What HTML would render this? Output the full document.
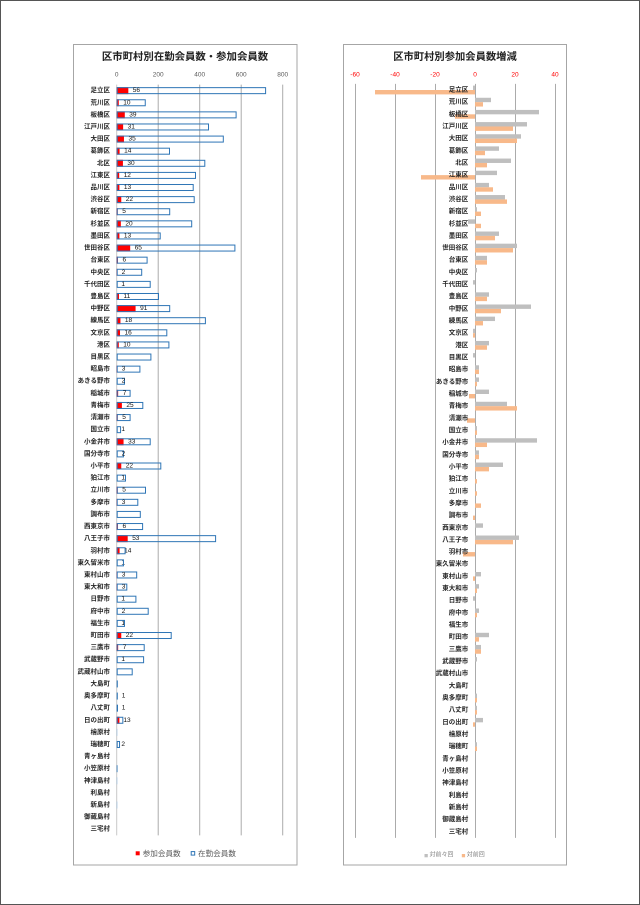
<!DOCTYPE html>
<html><head><meta charset="utf-8">
<style>
html,body{margin:0;padding:0;background:#fff;}
svg{display:block;}
text{font-family:"Liberation Sans","Noto Sans CJK JP",sans-serif;dominant-baseline:central;}
.l{text-anchor:end;font-size:6.5px;fill:#262626;font-weight:bold;}
.v{font-size:6.5px;fill:#111;}
.t{font-size:6.5px;fill:#595959;text-anchor:middle;}
.tr{font-size:6.5px;fill:#ff0000;text-anchor:middle;}
.r{fill:#ff0000;}
.b{fill:none;stroke:#2e75b6;stroke-width:1;}
.bl{fill:#2e75b6;}
.g{fill:#bfbfbf;}
.o{fill:#f8b98a;}
.gl{stroke:#ababab;stroke-width:1;}
</style></head>
<body>
<svg width="640" height="905" viewBox="0 0 640 905" xmlns="http://www.w3.org/2000/svg">
<rect x="0.5" y="0.5" width="639" height="904" fill="#fff" stroke="#555"/>

<!-- LEFT CHART -->
<rect x="73.5" y="44.5" width="223.5" height="820.5" fill="#fff" stroke="#a6a6a6"/>
<text x="185" y="57.5" font-size="10.4" font-weight="bold" text-anchor="middle" fill="#222">区市町村別在勤会員数・参加会員数</text>
<text class="t" x="116.7" y="75">0</text>
<text class="t" x="158.2" y="75">200</text>
<text class="t" x="199.7" y="75">400</text>
<text class="t" x="241.2" y="75">600</text>
<text class="t" x="282.7" y="75">800</text>
<line class="gl" x1="158.2" y1="84.6" x2="158.2" y2="835.4"/>
<line class="gl" x1="199.7" y1="84.6" x2="199.7" y2="835.4"/>
<line class="gl" x1="241.2" y1="84.6" x2="241.2" y2="835.4"/>
<line class="gl" x1="282.7" y1="84.6" x2="282.7" y2="835.4"/>
<line x1="116.7" y1="84.6" x2="116.7" y2="835.4" stroke="#c8c8c8"/>

<g transform="translate(0,90.65)"><text class="l" x="110">足立区</text><rect class="r" x="116.7" y="-3.5" width="11.62" height="7"/><rect class="b" x="117.2" y="-3" width="148.4" height="6"/><text class="v" x="132.8">56</text></g>
<g transform="translate(0,102.76)"><text class="l" x="110">荒川区</text><rect class="r" x="116.7" y="-3.5" width="2.08" height="7"/><rect class="b" x="117.2" y="-3" width="28.05" height="6"/><text class="v" x="123.3">10</text></g>
<g transform="translate(0,114.87)"><text class="l" x="110">板橋区</text><rect class="r" x="116.7" y="-3.5" width="8.09" height="7"/><rect class="b" x="117.2" y="-3" width="118.9" height="6"/><text class="v" x="129.3">39</text></g>
<g transform="translate(0,126.97)"><text class="l" x="110">江戸川区</text><rect class="r" x="116.7" y="-3.5" width="6.43" height="7"/><rect class="b" x="117.2" y="-3" width="91.3" height="6"/><text class="v" x="127.6">31</text></g>
<g transform="translate(0,139.08)"><text class="l" x="110">大田区</text><rect class="r" x="116.7" y="-3.5" width="7.26" height="7"/><rect class="b" x="117.2" y="-3" width="106.1" height="6"/><text class="v" x="128.5">35</text></g>
<g transform="translate(0,151.19)"><text class="l" x="110">葛飾区</text><rect class="r" x="116.7" y="-3.5" width="2.9" height="7"/><rect class="b" x="117.2" y="-3" width="52.3" height="6"/><text class="v" x="124.1">14</text></g>
<g transform="translate(0,163.30)"><text class="l" x="110">北区</text><rect class="r" x="116.7" y="-3.5" width="6.23" height="7"/><rect class="b" x="117.2" y="-3" width="87.6" height="6"/><text class="v" x="127.4">30</text></g>
<g transform="translate(0,175.41)"><text class="l" x="110">江東区</text><rect class="r" x="116.7" y="-3.5" width="2.49" height="7"/><rect class="b" x="117.2" y="-3" width="78.3" height="6"/><text class="v" x="123.7">12</text></g>
<g transform="translate(0,187.51)"><text class="l" x="110">品川区</text><rect class="r" x="116.7" y="-3.5" width="2.7" height="7"/><rect class="b" x="117.2" y="-3" width="76" height="6"/><text class="v" x="123.9">13</text></g>
<g transform="translate(0,199.62)"><text class="l" x="110">渋谷区</text><rect class="r" x="116.7" y="-3.5" width="4.57" height="7"/><rect class="b" x="117.2" y="-3" width="77" height="6"/><text class="v" x="125.8">22</text></g>
<g transform="translate(0,211.73)"><text class="l" x="110">新宿区</text><rect class="r" x="116.7" y="-3.5" width="1.04" height="7"/><rect class="b" x="117.2" y="-3" width="52.5" height="6"/><text class="v" x="122.2">5</text></g>
<g transform="translate(0,223.84)"><text class="l" x="110">杉並区</text><rect class="r" x="116.7" y="-3.5" width="4.15" height="7"/><rect class="b" x="117.2" y="-3" width="74.5" height="6"/><text class="v" x="125.4">20</text></g>
<g transform="translate(0,235.95)"><text class="l" x="110">墨田区</text><rect class="r" x="116.7" y="-3.5" width="2.7" height="7"/><rect class="b" x="117.2" y="-3" width="43" height="6"/><text class="v" x="123.9">13</text></g>
<g transform="translate(0,248.05)"><text class="l" x="110">世田谷区</text><rect class="r" x="116.7" y="-3.5" width="13.49" height="7"/><rect class="b" x="117.2" y="-3" width="117.7" height="6"/><text class="v" x="134.7">65</text></g>
<g transform="translate(0,260.16)"><text class="l" x="110">台東区</text><rect class="r" x="116.7" y="-3.5" width="1.25" height="7"/><rect class="b" x="117.2" y="-3" width="29.9" height="6"/><text class="v" x="122.5">6</text></g>
<g transform="translate(0,272.27)"><text class="l" x="110">中央区</text><rect class="r" x="116.7" y="-3.5" width="0.42" height="7"/><rect class="b" x="117.2" y="-3" width="24.5" height="6"/><text class="v" x="121.6">2</text></g>
<g transform="translate(0,284.38)"><text class="l" x="110">千代田区</text><rect class="b" x="117.2" y="-3" width="33" height="6"/><text class="v" x="121.4">1</text></g>
<g transform="translate(0,296.49)"><text class="l" x="110">豊島区</text><rect class="r" x="116.7" y="-3.5" width="2.28" height="7"/><rect class="b" x="117.2" y="-3" width="41.3" height="6"/><text class="v" x="123.5">11</text></g>
<g transform="translate(0,308.59)"><text class="l" x="110">中野区</text><rect class="r" x="116.7" y="-3.5" width="18.88" height="7"/><rect class="b" x="117.2" y="-3" width="52.5" height="6"/><text class="v" x="140.1">91</text></g>
<g transform="translate(0,320.70)"><text class="l" x="110">練馬区</text><rect class="r" x="116.7" y="-3.5" width="3.74" height="7"/><rect class="b" x="117.2" y="-3" width="88.2" height="6"/><text class="v" x="124.9">18</text></g>
<g transform="translate(0,332.81)"><text class="l" x="110">文京区</text><rect class="r" x="116.7" y="-3.5" width="3.32" height="7"/><rect class="b" x="117.2" y="-3" width="49.6" height="6"/><text class="v" x="124.5">16</text></g>
<g transform="translate(0,344.92)"><text class="l" x="110">港区</text><rect class="r" x="116.7" y="-3.5" width="2.08" height="7"/><rect class="b" x="117.2" y="-3" width="51.7" height="6"/><text class="v" x="123.3">10</text></g>
<g transform="translate(0,357.03)"><text class="l" x="110">目黒区</text><rect class="b" x="117.2" y="-3" width="33.7" height="6"/></g>
<g transform="translate(0,369.13)"><text class="l" x="110">昭島市</text><rect class="r" x="116.7" y="-3.5" width="0.62" height="7"/><rect class="b" x="117.2" y="-3" width="22.7" height="6"/><text class="v" x="121.8">3</text></g>
<g transform="translate(0,381.24)"><text class="l" x="110">あきる野市</text><rect class="b" x="117.2" y="-3" width="7.3" height="6"/><text class="v" x="121.6">2</text></g>
<g transform="translate(0,393.35)"><text class="l" x="110">稲城市</text><rect class="r" x="116.7" y="-3.5" width="1.45" height="7"/><rect class="b" x="117.2" y="-3" width="12.9" height="6"/><text class="v" x="122.7">7</text></g>
<g transform="translate(0,405.46)"><text class="l" x="110">青梅市</text><rect class="r" x="116.7" y="-3.5" width="5.19" height="7"/><rect class="b" x="117.2" y="-3" width="25.6" height="6"/><text class="v" x="126.4">25</text></g>
<g transform="translate(0,417.57)"><text class="l" x="110">清瀬市</text><rect class="r" x="116.7" y="-3.5" width="1.04" height="7"/><rect class="b" x="117.2" y="-3" width="12.9" height="6"/><text class="v" x="122.2">5</text></g>
<g transform="translate(0,429.67)"><text class="l" x="110">国立市</text><rect class="b" x="117.2" y="-3" width="3.36" height="6"/><text class="v" x="121.4">1</text></g>
<g transform="translate(0,441.78)"><text class="l" x="110">小金井市</text><rect class="r" x="116.7" y="-3.5" width="6.85" height="7"/><rect class="b" x="117.2" y="-3" width="33" height="6"/><text class="v" x="128.1">33</text></g>
<g transform="translate(0,453.89)"><text class="l" x="110">国分寺市</text><rect class="b" x="117.2" y="-3" width="6.26" height="6"/><text class="v" x="121.6">2</text></g>
<g transform="translate(0,466.00)"><text class="l" x="110">小平市</text><rect class="r" x="116.7" y="-3.5" width="4.57" height="7"/><rect class="b" x="117.2" y="-3" width="43.6" height="6"/><text class="v" x="125.8">22</text></g>
<g transform="translate(0,478.11)"><text class="l" x="110">狛江市</text><rect class="b" x="117.2" y="-3" width="8.3" height="6"/><text class="v" x="121.4">1</text></g>
<g transform="translate(0,490.21)"><text class="l" x="110">立川市</text><rect class="r" x="116.7" y="-3.5" width="1.04" height="7"/><rect class="b" x="117.2" y="-3" width="28.3" height="6"/><text class="v" x="122.2">5</text></g>
<g transform="translate(0,502.32)"><text class="l" x="110">多摩市</text><rect class="r" x="116.7" y="-3.5" width="0.62" height="7"/><rect class="b" x="117.2" y="-3" width="20.6" height="6"/><text class="v" x="121.8">3</text></g>
<g transform="translate(0,514.43)"><text class="l" x="110">調布市</text><rect class="b" x="117.2" y="-3" width="23.1" height="6"/></g>
<g transform="translate(0,526.54)"><text class="l" x="110">西東京市</text><rect class="r" x="116.7" y="-3.5" width="1.25" height="7"/><rect class="b" x="117.2" y="-3" width="25.4" height="6"/><text class="v" x="122.5">6</text></g>
<g transform="translate(0,538.65)"><text class="l" x="110">八王子市</text><rect class="r" x="116.7" y="-3.5" width="11" height="7"/><rect class="b" x="117.2" y="-3" width="98.4" height="6"/><text class="v" x="132.2">53</text></g>
<g transform="translate(0,550.75)"><text class="l" x="110">羽村市</text><rect class="r" x="116.7" y="-3.5" width="2.9" height="7"/><text class="v" x="124.1">14</text><rect class="b" x="117.2" y="-3" width="7.9" height="6"/></g>
<g transform="translate(0,562.86)"><text class="l" x="110">東久留米市</text><text class="v" x="121.4">1</text><rect class="b" x="117.2" y="-3" width="6.26" height="6"/></g>
<g transform="translate(0,574.97)"><text class="l" x="110">東村山市</text><rect class="r" x="116.7" y="-3.5" width="0.62" height="7"/><rect class="b" x="117.2" y="-3" width="19.5" height="6"/><text class="v" x="121.8">3</text></g>
<g transform="translate(0,587.08)"><text class="l" x="110">東大和市</text><rect class="r" x="116.7" y="-3.5" width="0.62" height="7"/><rect class="b" x="117.2" y="-3" width="9.6" height="6"/><text class="v" x="121.8">3</text></g>
<g transform="translate(0,599.19)"><text class="l" x="110">日野市</text><rect class="b" x="117.2" y="-3" width="18.7" height="6"/><text class="v" x="121.4">1</text></g>
<g transform="translate(0,611.29)"><text class="l" x="110">府中市</text><rect class="b" x="117.2" y="-3" width="31" height="6"/><text class="v" x="121.6">2</text></g>
<g transform="translate(0,623.40)"><text class="l" x="110">福生市</text><text class="v" x="121.4">1</text><rect class="b" x="117.2" y="-3" width="7.3" height="6"/></g>
<g transform="translate(0,635.51)"><text class="l" x="110">町田市</text><rect class="r" x="116.7" y="-3.5" width="4.57" height="7"/><rect class="b" x="117.2" y="-3" width="54" height="6"/><text class="v" x="125.8">22</text></g>
<g transform="translate(0,647.62)"><text class="l" x="110">三鷹市</text><rect class="r" x="116.7" y="-3.5" width="1.45" height="7"/><rect class="b" x="117.2" y="-3" width="27" height="6"/><text class="v" x="122.7">7</text></g>
<g transform="translate(0,659.73)"><text class="l" x="110">武蔵野市</text><rect class="b" x="117.2" y="-3" width="26.4" height="6"/><text class="v" x="121.4">1</text></g>
<g transform="translate(0,671.83)"><text class="l" x="110">武蔵村山市</text><rect class="b" x="117.2" y="-3" width="15" height="6"/></g>
<g transform="translate(0,683.94)"><text class="l" x="110">大島町</text><rect class="bl" x="116.7" y="-3.5" width="1.1" height="7"/></g>
<g transform="translate(0,696.05)"><text class="l" x="110">奥多摩町</text><rect class="bl" x="116.7" y="-3.5" width="1.1" height="7"/><text class="v" x="121.7">1</text></g>
<g transform="translate(0,708.16)"><text class="l" x="110">八丈町</text><rect class="bl" x="116.7" y="-3.5" width="1.3" height="7"/><text class="v" x="121.7">1</text></g>
<g transform="translate(0,720.27)"><text class="l" x="110">日の出町</text><rect class="r" x="116.7" y="-3.5" width="2.7" height="7"/><rect class="b" x="117.2" y="-3" width="5.64" height="6"/><text class="v" x="123.4">13</text></g>
<g transform="translate(0,732.37)"><text class="l" x="110">檜原村</text><rect x="116.7" y="-3.5" width="0.6" height="7" fill="#9dc3e6"/></g>
<g transform="translate(0,744.48)"><text class="l" x="110">瑞穂町</text><rect class="b" x="117.2" y="-3" width="2.32" height="6"/><text class="v" x="121.4">2</text></g>
<g transform="translate(0,756.59)"><text class="l" x="110">青ヶ島村</text></g>
<g transform="translate(0,768.70)"><text class="l" x="110">小笠原村</text><rect class="bl" x="116.7" y="-3.5" width="0.8" height="7"/></g>
<g transform="translate(0,780.81)"><text class="l" x="110">神津島村</text><rect x="116.7" y="-3.5" width="0.6" height="7" fill="#9dc3e6"/></g>
<g transform="translate(0,792.91)"><text class="l" x="110">利島村</text></g>
<g transform="translate(0,805.02)"><text class="l" x="110">新島村</text><rect x="116.7" y="-3.5" width="0.6" height="7" fill="#9dc3e6"/></g>
<g transform="translate(0,817.13)"><text class="l" x="110">御蔵島村</text></g>
<g transform="translate(0,829.24)"><text class="l" x="110">三宅村</text></g>

<rect class="r" x="135.7" y="851.3" width="4" height="4"/>
<text x="142.7" y="853.3" font-size="7.6" fill="#595959">参加会員数</text>
<rect class="b" x="191.2" y="851.6" width="3.5" height="3.5"/>
<text x="198" y="853.3" font-size="7.6" fill="#595959">在勤会員数</text>

<!-- RIGHT CHART -->
<rect x="343.5" y="44.5" width="223" height="820.5" fill="#fff" stroke="#a6a6a6"/>
<text x="455" y="57.5" font-size="10.3" font-weight="bold" text-anchor="middle" fill="#222">区市町村別参加会員数増減</text>
<text class="tr" x="355" y="75">-60</text>
<text class="tr" x="395" y="75">-40</text>
<text class="tr" x="435" y="75">-20</text>
<text class="tr" x="475" y="75">0</text>
<text class="tr" x="515" y="75">20</text>
<text class="tr" x="555" y="75">40</text>
<line class="gl" x1="355.5" y1="83.9" x2="355.5" y2="837.9"/>
<line class="gl" x1="395.5" y1="83.9" x2="395.5" y2="837.9"/>
<line class="gl" x1="435.5" y1="83.9" x2="435.5" y2="837.9"/>
<line class="gl" x1="475.5" y1="83.9" x2="475.5" y2="837.9"/>
<line class="gl" x1="515.5" y1="83.9" x2="515.5" y2="837.9"/>
<line class="gl" x1="555.5" y1="83.9" x2="555.5" y2="837.9"/>

<g transform="translate(0,90.00)"><rect class="g" x="473" y="-4.4" width="2" height="4.4"/><rect class="o" x="375" y="0" width="100" height="4.4"/><text class="l" x="468.3">足立区</text></g>
<g transform="translate(0,102.16)"><rect class="g" x="475" y="-4.4" width="16" height="4.4"/><rect class="o" x="475" y="0" width="8" height="4.4"/><text class="l" x="468.3">荒川区</text></g>
<g transform="translate(0,114.32)"><rect class="g" x="475" y="-4.4" width="64" height="4.4"/><rect class="o" x="455" y="0" width="20" height="4.4"/><text class="l" x="468.3">板橋区</text></g>
<g transform="translate(0,126.48)"><rect class="g" x="475" y="-4.4" width="52" height="4.4"/><rect class="o" x="475" y="0" width="38" height="4.4"/><text class="l" x="468.3">江戸川区</text></g>
<g transform="translate(0,138.64)"><rect class="g" x="475" y="-4.4" width="46" height="4.4"/><rect class="o" x="475" y="0" width="42" height="4.4"/><text class="l" x="468.3">大田区</text></g>
<g transform="translate(0,150.80)"><rect class="g" x="475" y="-4.4" width="24" height="4.4"/><rect class="o" x="475" y="0" width="10" height="4.4"/><text class="l" x="468.3">葛飾区</text></g>
<g transform="translate(0,162.96)"><rect class="g" x="475" y="-4.4" width="36" height="4.4"/><rect class="o" x="475" y="0" width="12" height="4.4"/><text class="l" x="468.3">北区</text></g>
<g transform="translate(0,175.12)"><rect class="g" x="475" y="-4.4" width="22" height="4.4"/><rect class="o" x="421" y="0" width="54" height="4.4"/><text class="l" x="468.3">江東区</text></g>
<g transform="translate(0,187.28)"><rect class="g" x="475" y="-4.4" width="14" height="4.4"/><rect class="o" x="475" y="0" width="18" height="4.4"/><text class="l" x="468.3">品川区</text></g>
<g transform="translate(0,199.44)"><rect class="g" x="475" y="-4.4" width="30" height="4.4"/><rect class="o" x="475" y="0" width="32" height="4.4"/><text class="l" x="468.3">渋谷区</text></g>
<g transform="translate(0,211.60)"><rect class="g" x="475" y="-4.4" width="2" height="4.4"/><rect class="o" x="475" y="0" width="6" height="4.4"/><text class="l" x="468.3">新宿区</text></g>
<g transform="translate(0,223.76)"><rect class="g" x="468" y="-4.4" width="7" height="4.4"/><rect class="o" x="475" y="0" width="6" height="4.4"/><text class="l" x="468.3">杉並区</text></g>
<g transform="translate(0,235.92)"><rect class="g" x="475" y="-4.4" width="24" height="4.4"/><rect class="o" x="475" y="0" width="20" height="4.4"/><text class="l" x="468.3">墨田区</text></g>
<g transform="translate(0,248.08)"><rect class="g" x="475" y="-4.4" width="42" height="4.4"/><rect class="o" x="475" y="0" width="38" height="4.4"/><text class="l" x="468.3">世田谷区</text></g>
<g transform="translate(0,260.24)"><rect class="g" x="475" y="-4.4" width="12" height="4.4"/><rect class="o" x="475" y="0" width="12" height="4.4"/><text class="l" x="468.3">台東区</text></g>
<g transform="translate(0,272.40)"><rect class="g" x="475" y="-4.4" width="2" height="4.4"/><text class="l" x="468.3">中央区</text></g>
<g transform="translate(0,284.56)"><rect class="g" x="473" y="-4.4" width="2" height="4.4"/><text class="l" x="468.3">千代田区</text></g>
<g transform="translate(0,296.72)"><rect class="g" x="475" y="-4.4" width="14" height="4.4"/><rect class="o" x="475" y="0" width="12" height="4.4"/><text class="l" x="468.3">豊島区</text></g>
<g transform="translate(0,308.88)"><rect class="g" x="475" y="-4.4" width="56" height="4.4"/><rect class="o" x="475" y="0" width="26" height="4.4"/><text class="l" x="468.3">中野区</text></g>
<g transform="translate(0,321.04)"><rect class="g" x="475" y="-4.4" width="20" height="4.4"/><rect class="o" x="475" y="0" width="8" height="4.4"/><text class="l" x="468.3">練馬区</text></g>
<g transform="translate(0,333.20)"><rect class="g" x="473" y="-4.4" width="2" height="4.4"/><rect class="o" x="473" y="0" width="2" height="4.4"/><text class="l" x="468.3">文京区</text></g>
<g transform="translate(0,345.36)"><rect class="g" x="475" y="-4.4" width="14" height="4.4"/><rect class="o" x="475" y="0" width="12" height="4.4"/><text class="l" x="468.3">港区</text></g>
<g transform="translate(0,357.52)"><rect class="g" x="473" y="-4.4" width="2" height="4.4"/><text class="l" x="468.3">目黒区</text></g>
<g transform="translate(0,369.68)"><rect class="g" x="475" y="-4.4" width="4" height="4.4"/><rect class="o" x="475" y="0" width="4" height="4.4"/><text class="l" x="468.3">昭島市</text></g>
<g transform="translate(0,381.84)"><rect class="g" x="475" y="-4.4" width="4" height="4.4"/><rect class="o" x="475" y="0" width="2" height="4.4"/><text class="l" x="468.3">あきる野市</text></g>
<g transform="translate(0,394.00)"><rect class="g" x="475" y="-4.4" width="14" height="4.4"/><rect class="o" x="469" y="0" width="6" height="4.4"/><text class="l" x="468.3">稲城市</text></g>
<g transform="translate(0,406.16)"><rect class="g" x="475" y="-4.4" width="32" height="4.4"/><rect class="o" x="475" y="0" width="42" height="4.4"/><text class="l" x="468.3">青梅市</text></g>
<g transform="translate(0,418.32)"><rect class="o" x="467" y="0" width="8" height="4.4"/><text class="l" x="468.3">清瀬市</text></g>
<g transform="translate(0,430.48)"><rect class="g" x="475" y="-4.4" width="2" height="4.4"/><rect class="o" x="475" y="0" width="2" height="4.4"/><text class="l" x="468.3">国立市</text></g>
<g transform="translate(0,442.64)"><rect class="g" x="475" y="-4.4" width="62" height="4.4"/><rect class="o" x="475" y="0" width="12" height="4.4"/><text class="l" x="468.3">小金井市</text></g>
<g transform="translate(0,454.80)"><rect class="g" x="475" y="-4.4" width="4" height="4.4"/><rect class="o" x="475" y="0" width="4" height="4.4"/><text class="l" x="468.3">国分寺市</text></g>
<g transform="translate(0,466.96)"><rect class="g" x="475" y="-4.4" width="28" height="4.4"/><rect class="o" x="475" y="0" width="14" height="4.4"/><text class="l" x="468.3">小平市</text></g>
<g transform="translate(0,479.12)"><rect class="o" x="475" y="0" width="2" height="4.4"/><text class="l" x="468.3">狛江市</text></g>
<g transform="translate(0,491.28)"><rect class="o" x="475" y="0" width="2" height="4.4"/><text class="l" x="468.3">立川市</text></g>
<g transform="translate(0,503.44)"><rect class="o" x="475" y="0" width="6" height="4.4"/><text class="l" x="468.3">多摩市</text></g>
<g transform="translate(0,515.60)"><rect class="o" x="473" y="0" width="2" height="4.4"/><text class="l" x="468.3">調布市</text></g>
<g transform="translate(0,527.76)"><rect class="g" x="475" y="-4.4" width="8" height="4.4"/><text class="l" x="468.3">西東京市</text></g>
<g transform="translate(0,539.92)"><rect class="g" x="475" y="-4.4" width="44" height="4.4"/><rect class="o" x="475" y="0" width="38" height="4.4"/><text class="l" x="468.3">八王子市</text></g>
<g transform="translate(0,552.08)"><rect class="o" x="463" y="0" width="12" height="4.4"/><text class="l" x="468.3">羽村市</text></g>
<g transform="translate(0,564.24)"><text class="l" x="468.3">東久留米市</text></g>
<g transform="translate(0,576.40)"><rect class="g" x="475" y="-4.4" width="6" height="4.4"/><rect class="o" x="473" y="0" width="2" height="4.4"/><text class="l" x="468.3">東村山市</text></g>
<g transform="translate(0,588.56)"><rect class="g" x="475" y="-4.4" width="4" height="4.4"/><rect class="o" x="475" y="0" width="2" height="4.4"/><text class="l" x="468.3">東大和市</text></g>
<g transform="translate(0,600.72)"><rect class="g" x="473" y="-4.4" width="2" height="4.4"/><text class="l" x="468.3">日野市</text></g>
<g transform="translate(0,612.88)"><rect class="g" x="475" y="-4.4" width="4" height="4.4"/><rect class="o" x="475" y="0" width="2" height="4.4"/><text class="l" x="468.3">府中市</text></g>
<g transform="translate(0,625.04)"><text class="l" x="468.3">福生市</text></g>
<g transform="translate(0,637.20)"><rect class="g" x="475" y="-4.4" width="14" height="4.4"/><rect class="o" x="475" y="0" width="4" height="4.4"/><text class="l" x="468.3">町田市</text></g>
<g transform="translate(0,649.36)"><rect class="g" x="475" y="-4.4" width="6" height="4.4"/><rect class="o" x="475" y="0" width="6" height="4.4"/><text class="l" x="468.3">三鷹市</text></g>
<g transform="translate(0,661.52)"><rect class="g" x="475" y="-4.4" width="2" height="4.4"/><text class="l" x="468.3">武蔵野市</text></g>
<g transform="translate(0,673.68)"><text class="l" x="468.3">武蔵村山市</text></g>
<g transform="translate(0,685.84)"><text class="l" x="468.3">大島町</text></g>
<g transform="translate(0,698.00)"><rect class="g" x="475" y="-4.4" width="2" height="4.4"/><rect class="o" x="475" y="0" width="2" height="4.4"/><text class="l" x="468.3">奥多摩町</text></g>
<g transform="translate(0,710.16)"><rect class="g" x="475" y="-4.4" width="2" height="4.4"/><rect class="o" x="475" y="0" width="2" height="4.4"/><text class="l" x="468.3">八丈町</text></g>
<g transform="translate(0,722.32)"><rect class="g" x="475" y="-4.4" width="8" height="4.4"/><rect class="o" x="473" y="0" width="2" height="4.4"/><text class="l" x="468.3">日の出町</text></g>
<g transform="translate(0,734.48)"><text class="l" x="468.3">檜原村</text></g>
<g transform="translate(0,746.64)"><rect class="g" x="475" y="-4.4" width="2" height="4.4"/><rect class="o" x="475" y="0" width="2" height="4.4"/><text class="l" x="468.3">瑞穂町</text></g>
<g transform="translate(0,758.80)"><text class="l" x="468.3">青ヶ島村</text></g>
<g transform="translate(0,770.96)"><text class="l" x="468.3">小笠原村</text></g>
<g transform="translate(0,783.12)"><text class="l" x="468.3">神津島村</text></g>
<g transform="translate(0,795.28)"><text class="l" x="468.3">利島村</text></g>
<g transform="translate(0,807.44)"><text class="l" x="468.3">新島村</text></g>
<g transform="translate(0,819.60)"><text class="l" x="468.3">御蔵島村</text></g>
<g transform="translate(0,831.76)"><text class="l" x="468.3">三宅村</text></g>

<rect class="g" x="424.5" y="854" width="3.3" height="3.3"/>
<text x="429.5" y="855.7" font-size="6" fill="#7f7f7f">対前々回</text>
<rect class="o" x="461.8" y="854" width="3.3" height="3.3"/>
<text x="466.8" y="855.7" font-size="6" fill="#7f7f7f">対前回</text>
</svg>
</body></html>
